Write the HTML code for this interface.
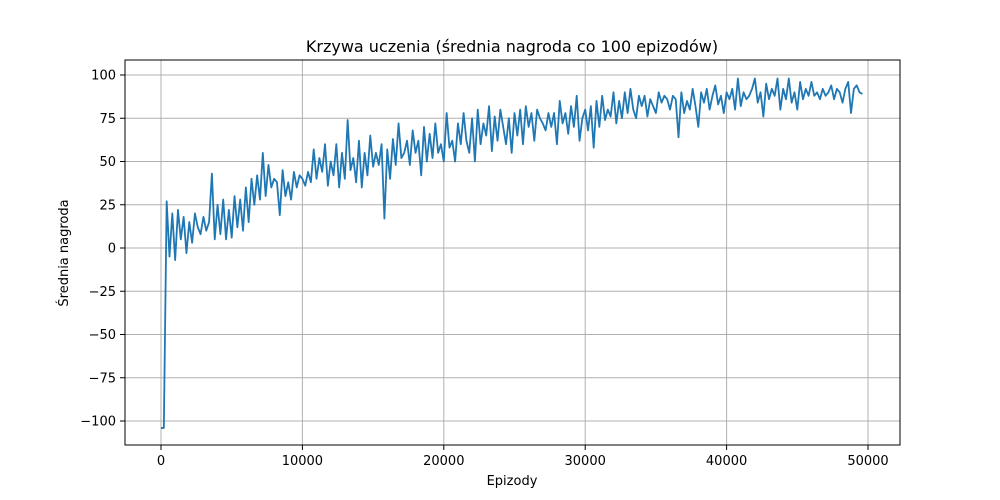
<!DOCTYPE html>
<html><head><meta charset="utf-8"><style>
html,body{margin:0;padding:0;background:#fff;}
svg{display:block;font-family:"DejaVu Sans","Liberation Sans",sans-serif;}
</style></head><body>
<svg id="chart" width="1000" height="500" viewBox="0 0 1000 500">
<rect x="0" y="0" width="1000" height="500" fill="#fff"/>
<text x="512" y="52" font-size="16" text-anchor="middle" fill="#000">Krzywa uczenia (średnia nagroda co 100 epizodów)</text>
<g id="grid"></g>
<g id="series"></g>
<rect x="125" y="60" width="775" height="385" fill="none" stroke="#000" stroke-width="1"/>
<g id="ticks"></g>
<text x="512" y="485" font-size="13" text-anchor="middle">Epizody</text>
<text x="68" y="253" font-size="13" text-anchor="middle" transform="rotate(-90 68 253)">Średnia nagroda</text>
</svg>
<script>
const xTicks = [0, 10000, 20000, 30000, 40000, 50000];
const yTicks = [-100, -75, -50, -25, 0, 25, 50, 75, 100];
const yTickLabels = ["\u2212100", "\u221275", "\u221250", "\u221225", "0", "25", "50", "75", "100"];
const episodeStep = 200;
const rewards = [
-104,-104,27,-5,20,-7,22,5,18,-3,
15,3,20,12,8,18,10,15,43,5,
25,8,28,5,22,6,30,12,28,10,
35,15,40,25,42,28,55,30,48,35,
40,38,19,45,30,38,28,44,35,42,
40,36,44,38,57,40,52,44,60,36,
50,42,60,35,55,40,74,45,52,38,
62,35,55,42,65,47,55,48,60,17,
57,40,63,48,72,52,55,62,48,68,
55,62,42,70,50,66,52,72,55,60,
50,78,58,62,50,72,60,78,62,55,
75,50,80,60,72,65,82,56,76,62,
80,70,60,75,55,78,65,80,60,82,
70,78,62,80,75,72,68,78,70,78,
60,85,72,78,66,82,70,88,62,75,
80,68,82,58,85,70,88,74,80,76,
90,72,85,75,90,78,92,80,75,88,
82,88,76,86,82,78,90,84,88,86,
80,88,86,64,90,78,85,80,92,82,
70,90,84,92,80,88,94,83,88,78,
90,86,92,80,98,82,90,86,88,92,
98,84,90,76,95,86,92,88,98,80,
92,86,98,84,90,80,96,86,92,88,
96,88,90,86,92,88,90,94,86,92,
90,84,92,96,78,92,94,90,89
];
const NS = "http://www.w3.org/2000/svg";
const xScale = v => 161 + v * (707 / 50000);
const yScale = v => 248 - v * 1.73;
const grid = document.getElementById('grid');
const ticks = document.getElementById('ticks');
function mk(tag, attrs, parent) {
  const e = document.createElementNS(NS, tag);
  for (const k in attrs) e.setAttribute(k, attrs[k]);
  parent.appendChild(e);
  return e;
}
xTicks.forEach(t => {
  const x = xScale(t);
  const g = mk('line', {x1: x, x2: x, y1: 60, y2: 445, stroke: '#b0b0b0', 'stroke-width': 1}, grid);
  
  
  const tk = mk('line', {x1: x, x2: x, y1: 445, y2: 450, stroke: '#000'}, ticks);
  
  
  const tx = mk('text', {x: x, y: 465, 'font-size': 13, 'text-anchor': 'middle'}, ticks);
  tx.textContent = String(t);
  
  
});
yTicks.forEach((t, i) => {
  const y = yScale(t);
  const g = mk('line', {x1: 125, x2: 900, y1: y, y2: y, stroke: '#b0b0b0', 'stroke-width': 1}, grid);
  
  
  const tk = mk('line', {x1: 120, x2: 125, y1: y, y2: y, stroke: '#000'}, ticks);
  
  
  const tx = mk('text', {x: 116, y: y + 4.5, 'font-size': 13, 'text-anchor': 'end'}, ticks);
  tx.textContent = yTickLabels[i];
  
  
});
const pts = rewards.map((v, i) => xScale(i * episodeStep).toFixed(2) + ',' + yScale(v).toFixed(2)).join(' ');
const line = mk('polyline', {points: pts, fill: 'none', stroke: '#1f77b4', 'stroke-width': 1.8, 'stroke-linejoin': 'round'}, document.getElementById('series'));


</script>
</body></html>
